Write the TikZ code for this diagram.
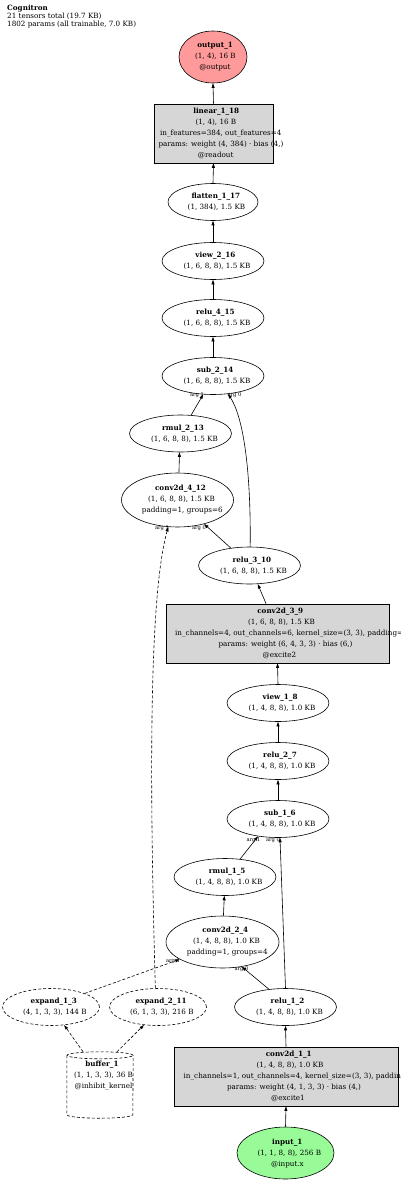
\documentclass[tikz,border=0pt]{standalone}
\usepackage{fontspec}
\setmainfont{DejaVu Serif}
\usetikzlibrary{shapes.geometric, arrows.meta}
\definecolor{outred}{HTML}{FF9A9A}
\definecolor{ingreen}{HTML}{98FB98}
\definecolor{modgray}{HTML}{D6D6D6}
\newcommand{\gvline}[1]{\makebox[0.88\width][l]{#1}}
\tikzset{
  op/.style={draw, ellipse, inner sep=0pt, line width=0.6pt},
  mod/.style={draw, rectangle, fill=modgray, inner sep=0pt, line width=0.6pt},
  txt/.style={align=center, inner sep=0pt, font=\fontsize{7.2}{11}\selectfont},
  dashline/.style={dash pattern=on 3pt off 2pt},
  edge/.style={-{Triangle[length=4.5pt,width=3pt]}, line width=0.6pt},
  argl/.style={inner sep=0pt, font=\fontsize{5.2}{6}\selectfont}
}

\begin{document}
\begin{tikzpicture}[x=1pt, y=-1pt]
    \useasboundingbox (0,0) rectangle (400,1182);

    % Title
    \node[align=left, anchor=north west, inner sep=0pt, font=\fontsize{7.2}{8.2}\selectfont] (title) at (7,4.5)
        {\textbf{Cognitron}\\21 tensors total (19.7 KB)\\1802 params (all trainable, 7.0 KB)};

    % Output column
    \node[op, fill=outred, minimum width=68pt, minimum height=52pt,
        label={[txt]center:{\gvline{\textbf{output\_1}}\\\gvline{(1, 4), 16 B}\\\gvline{@output}}}] (output1) at (213,57) {};
    \node[mod, minimum width=119pt, minimum height=59pt,
        label={[txt]center:{\gvline{\textbf{linear\_1\_18}}\\\gvline{(1, 4), 16 B}\\\gvline{in\_features=384, out\_features=4}\\\gvline{params: weight (4, 384) · bias (4,)}\\\gvline{@readout}}}] (linear118) at (213.5,133.5) {};
    \node[op, minimum width=90pt, minimum height=37pt,
        label={[txt]center:{\gvline{\textbf{flatten\_1\_17}}\\\gvline{(1, 384), 1.5 KB}}}] (flatten117) at (213,202) {};
    \node[op, minimum width=102pt, minimum height=37pt,
        label={[txt]center:{\gvline{\textbf{view\_2\_16}}\\\gvline{(1, 6, 8, 8), 1.5 KB}}}] (view216) at (213,261) {};
    \node[op, minimum width=102pt, minimum height=37pt,
        label={[txt]center:{\gvline{\textbf{relu\_4\_15}}\\\gvline{(1, 6, 8, 8), 1.5 KB}}}] (relu415) at (213,318) {};
    \node[op, minimum width=102pt, minimum height=37pt,
        label={[txt]center:{\gvline{\textbf{sub\_2\_14}}\\\gvline{(1, 6, 8, 8), 1.5 KB}}}] (sub214) at (213,376) {};

    % Second stage
    \node[op, minimum width=102pt, minimum height=37pt,
        label={[txt]center:{\gvline{\textbf{rmul\_2\_13}}\\\gvline{(1, 6, 8, 8), 1.5 KB}}}] (rmul213) at (180.5,433.5) {};
    \node[op, minimum width=112pt, minimum height=54pt,
        label={[txt]center:{\gvline{\textbf{conv2d\_4\_12}}\\\gvline{(1, 6, 8, 8), 1.5 KB}\\\gvline{padding=1, groups=6}}}] (conv2d412) at (177.5,500) {};
    \node[op, minimum width=102pt, minimum height=37pt,
        label={[txt]center:{\gvline{\textbf{relu\_3\_10}}\\\gvline{(1, 6, 8, 8), 1.5 KB}}}] (relu310) at (249.5,565.5) {};
    \node[mod, minimum width=223pt, minimum height=59pt,
        label={[txt]center:{\gvline{\textbf{conv2d\_3\_9}}\\\gvline{(1, 6, 8, 8), 1.5 KB}\\\gvline{in\_channels=4, out\_channels=6, kernel\_size=(3, 3), padding=1}\\\gvline{params: weight (6, 4, 3, 3) · bias (6,)}\\\gvline{@excite2}}}] (conv2d39) at (277.5,633.5) {};

    % First stage
    \node[op, minimum width=102pt, minimum height=37pt,
        label={[txt]center:{\gvline{\textbf{view\_1\_8}}\\\gvline{(1, 4, 8, 8), 1.0 KB}}}] (view18) at (278,703) {};
    \node[op, minimum width=102pt, minimum height=37pt,
        label={[txt]center:{\gvline{\textbf{relu\_2\_7}}\\\gvline{(1, 4, 8, 8), 1.0 KB}}}] (relu27) at (278,761) {};
    \node[op, minimum width=102pt, minimum height=37pt,
        label={[txt]center:{\gvline{\textbf{sub\_1\_6}}\\\gvline{(1, 4, 8, 8), 1.0 KB}}}] (sub16) at (278,819) {};
    \node[op, minimum width=102pt, minimum height=37pt,
        label={[txt]center:{\gvline{\textbf{rmul\_1\_5}}\\\gvline{(1, 4, 8, 8), 1.0 KB}}}] (rmul15) at (225,877) {};
    \node[op, minimum width=113pt, minimum height=52pt,
        label={[txt]center:{\gvline{\textbf{conv2d\_2\_4}}\\\gvline{(1, 4, 8, 8), 1.0 KB}\\\gvline{padding=1, groups=4}}}] (conv2d24) at (222.5,942) {};
    \node[op, minimum width=102pt, minimum height=37pt,
        label={[txt]center:{\gvline{\textbf{relu\_1\_2}}\\\gvline{(1, 4, 8, 8), 1.0 KB}}}] (relu12) at (285.5,1007) {};
    \node[mod, minimum width=224pt, minimum height=59pt,
        label={[txt]center:{\gvline{\textbf{conv2d\_1\_1}}\\\gvline{(1, 4, 8, 8), 1.0 KB}\\\gvline{in\_channels=1, out\_channels=4, kernel\_size=(3, 3), padding=1}\\\gvline{params: weight (4, 1, 3, 3) · bias (4,)}\\\gvline{@excite1}}}] (conv2d11) at (286,1076.5) {};
    \node[op, fill=ingreen, minimum width=97pt, minimum height=52pt,
        label={[txt]center:{\gvline{\textbf{input\_1}}\\\gvline{(1, 1, 8, 8), 256 B}\\\gvline{@input.x}}}] (input1) at (285.5,1153) {};

    % Inhibitory kernel
    \node[op, dashline, minimum width=97pt, minimum height=37pt,
        label={[txt]center:{\gvline{\textbf{expand\_1\_3}}\\\gvline{(4, 1, 3, 3), 144 B}}}] (expand13) at (51,1007) {};
    \node[op, dashline, minimum width=97pt, minimum height=37pt,
        label={[txt]center:{\gvline{\textbf{expand\_2\_11}}\\\gvline{(6, 1, 3, 3), 216 B}}}] (expand211) at (158,1007) {};
    \node[inner sep=0pt, minimum width=66pt, minimum height=66pt,
        label={[txt, yshift=9.5pt]center:{\gvline{\textbf{buffer\_1}}\\\gvline{(1, 1, 3, 3), 36 B}\\\gvline{@inhibit\_kernel}}}] (buffer1) at (100,1085) {};
    % cylinder outline of buffer_1
    \draw[dashline, line width=0.6pt] ([yshift=-3.5pt]buffer1.north) ellipse [x radius=33pt, y radius=3.5pt];
    \draw[dashline, line width=0.6pt] ([yshift=-3.5pt]buffer1.north west) -- ([yshift=3.5pt]buffer1.south west)
        arc[start angle=180, end angle=360, x radius=33pt, y radius=3.5pt] -- ([yshift=-3.5pt]buffer1.north east);

    % Edges
    \draw[edge] (input1.north) -- (conv2d11.south);
    \draw[edge] (conv2d11.north) -- (relu12.south);
    \draw[edge] (relu12.133) -- (conv2d24.-52);
    \draw[edge] (relu12.north) -- (sub16.-84);
    \draw[edge, dashline] (buffer1.117) -- (expand13.-54);
    \draw[edge, dashline] (buffer1.63) -- (expand211.-128);
    \draw[edge, dashline] (expand13.22) -- (conv2d24.-158);
    \draw[edge, dashline] (expand211.98) .. controls (150,800) and (148,600) .. (conv2d412.-109);
    \draw[edge] (conv2d24.88) -- (rmul15.-92);
    \draw[edge] (rmul15.50) -- (sub16.-139);
    \draw[edge] (sub16.north) -- (relu27.south);
    \draw[edge] (relu27.north) -- (view18.south);
    \draw[edge] (view18.north) -- (conv2d39.south);
    \draw[edge] (conv2d39.111) -- (relu310.-66);
    \draw[edge] (relu310.137) -- (conv2d412.-42);
    \draw[edge] (relu310.88) .. controls (251,480) and (245,420) .. (sub214.-50);
    \draw[edge] (conv2d412.87) -- (rmul213.-93);
    \draw[edge] (rmul213.60) -- (sub214.-118);
    \draw[edge] (sub214.north) -- (relu415.south);
    \draw[edge] (relu415.north) -- (view216.south);
    \draw[edge] (view216.north) -- (flatten117.south);
    \draw[edge] (flatten117.north) -- (linear118.south);
    \draw[edge] (linear118.north) -- (output1.south);

    % Argument labels
    \node[argl] (sub214a1) at (197,395) {arg 1};
    \node[argl] (sub214a0) at (234.5,395) {arg 0};
    \node[argl] (conv412a1) at (162,528) {arg 1};
    \node[argl] (conv412a0) at (199,528) {arg 0};
    \node[argl] (sub16a1) at (253.5,840) {arg 1};
    \node[argl] (sub16a0) at (273,840) {arg 0};
    \node[argl] (conv24a1) at (173,961.5) {arg 1};
    \node[argl] (conv24a0) at (241.5,969) {arg 0};
\end{tikzpicture}
\end{document}
